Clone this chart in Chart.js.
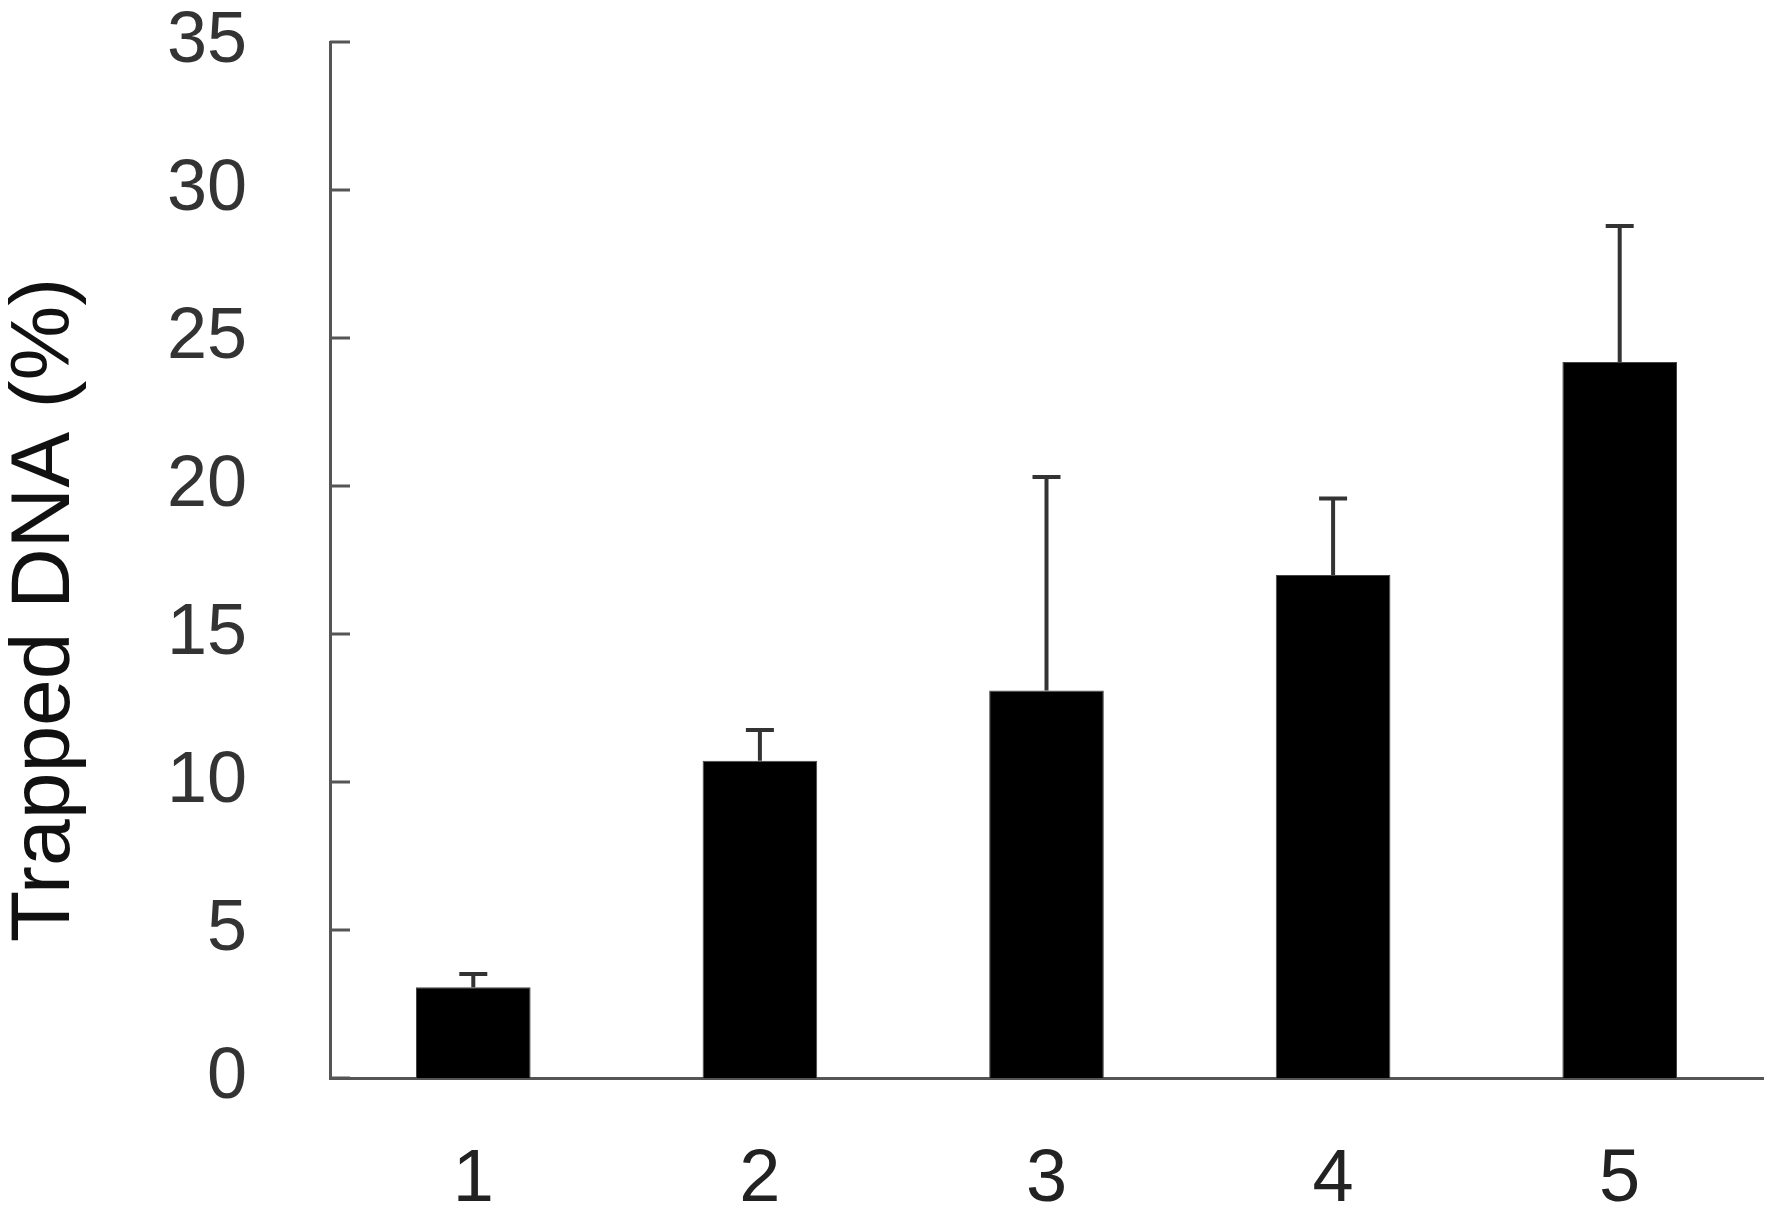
<!DOCTYPE html>
<html>
<head>
<meta charset="utf-8">
<script src="https://cdn.jsdelivr.net/npm/chart.js@4/dist/chart.umd.min.js"></script>
<style>
  html, body { margin: 0; padding: 0; background: #fff; }
  #wrap { width: 1772px; height: 1222px; }
</style>
</head>
<body>
<div id="wrap"><canvas id="trapChart" width="1772" height="1222"></canvas></div>
<script>
// values
const lanes = ['1', '2', '3', '4', '5'];
const trapped = [3.07, 10.72, 13.09, 16.99, 24.19];
const errUpper = [3.51, 11.76, 20.3, 19.58, 28.78];
const yTicks = [0, 5, 10, 15, 20, 25, 30, 35];
const yTitle = 'Trapped DNA (%)';

// draws the upper error bars, the inward y ticks and the y title
const extrasPlugin = {
  id: 'extras',
  afterDatasetsDraw(chart) {
    const ctx = chart.ctx;
    const y = chart.scales.y;
    const meta = chart.getDatasetMeta(0);
    ctx.save();
    ctx.strokeStyle = '#333';
    ctx.lineWidth = 4;
    meta.data.forEach((bar, i) => {
      const top = y.getPixelForValue(trapped[i]);
      const end = y.getPixelForValue(errUpper[i]);
      ctx.beginPath();
      ctx.moveTo(bar.x, top);
      ctx.lineTo(bar.x, end);
      ctx.moveTo(bar.x - 14, end);
      ctx.lineTo(bar.x + 14, end);
      ctx.stroke();
    });
    ctx.strokeStyle = '#555';
    ctx.lineWidth = 3;
    const left = chart.chartArea.left;
    yTicks.forEach(v => {
      const py = y.getPixelForValue(v);
      ctx.beginPath();
      ctx.moveTo(left, py);
      ctx.lineTo(left + 20, py);
      ctx.stroke();
    });
    // title sits a bit below the axis middle in the original
    const mid = (chart.chartArea.top + chart.chartArea.bottom) / 2 + 50;
    ctx.translate(69, mid);
    ctx.rotate(-Math.PI / 2);
    ctx.fillStyle = '#111';
    ctx.font = '84px "Liberation Sans"';
    ctx.textAlign = 'center';
    ctx.textBaseline = 'alphabetic';
    ctx.fillText(yTitle, 0, 0);
    ctx.restore();
  }
};

new Chart(document.getElementById('trapChart').getContext('2d'), {
  type: 'bar',
  data: {
    labels: lanes,
    datasets: [{
      data: trapped,
      backgroundColor: '#000',
      borderColor: '#444',
      borderWidth: 1,
      barPercentage: 0.4,
      categoryPercentage: 1.0
    }]
  },
  options: {
    responsive: false,
    animation: false,
    layout: { padding: { top: 42, right: 9, left: 0, bottom: 0 } },
    plugins: { legend: { display: false }, tooltip: { enabled: false } },
    scales: {
      x: {
        grid: { display: false, drawTicks: false },
        border: { color: '#555', width: 3 },
        ticks: {
          color: '#222',
          padding: 58,
          font: { family: 'Liberation Sans', size: 74 }
        },
        afterFit(scale) {
          scale.height = 144;
          scale.paddingLeft = 0;
          scale.paddingRight = 0;
        }
      },
      y: {
        min: 0,
        max: 35,
        grid: { display: false, drawTicks: false },
        border: { color: '#555', width: 3 },
        ticks: {
          stepSize: 5,
          color: '#333',
          padding: 83,
          font: { family: 'Liberation Sans', size: 72 }
        },
        afterFit(scale) {
          scale.width = 330;
          scale.paddingTop = 0;
          scale.paddingBottom = 0;
        }
      }
    }
  },
  plugins: [extrasPlugin]
});
</script>
</body>
</html>
